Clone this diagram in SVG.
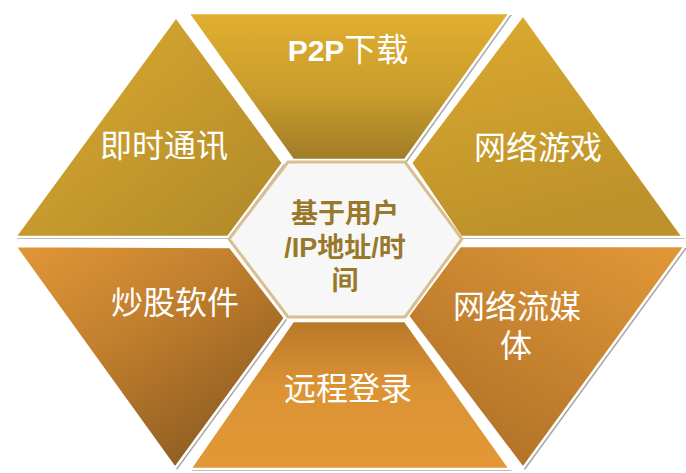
<svg xmlns="http://www.w3.org/2000/svg" width="686" height="473" viewBox="0 0 686 473">
<defs>
<linearGradient id="gTop" x1="0" y1="0" x2="0" y2="1"><stop offset="0" stop-color="#E1AF30"/><stop offset="0.55" stop-color="#C99C2B"/><stop offset="1" stop-color="#A07C28"/></linearGradient>
<linearGradient id="gTL" x1="0" y1="0" x2="1" y2="1"><stop offset="0" stop-color="#DDAC31"/><stop offset="1" stop-color="#AF8828"/></linearGradient>
<linearGradient id="gTR" x1="0" y1="0" x2="0.3" y2="1"><stop offset="0" stop-color="#DCAA30"/><stop offset="1" stop-color="#BD922A"/></linearGradient>
<linearGradient id="gBL" x1="0" y1="0" x2="0.8" y2="1"><stop offset="0" stop-color="#E29737"/><stop offset="0.45" stop-color="#C07E2D"/><stop offset="1" stop-color="#875820"/></linearGradient>
<linearGradient id="gB" x1="0" y1="0" x2="0" y2="1"><stop offset="0" stop-color="#B97828"/><stop offset="0.45" stop-color="#DC9334"/><stop offset="1" stop-color="#E29836"/></linearGradient>
<linearGradient id="gBR" x1="1" y1="0" x2="0.3" y2="1"><stop offset="0" stop-color="#E29837"/><stop offset="1" stop-color="#B07228"/></linearGradient>
</defs>
<style>
.sh{fill:#A8A8A8}
.pc{stroke:#FFFFFF;stroke-width:2.5;stroke-linejoin:miter}
.lb{font-family:"Noto Sans CJK SC","Noto Sans",sans-serif;font-size:32px;fill:#FFFFFF;text-anchor:middle}
.ct{font-family:"Noto Sans CJK SC","Noto Sans",sans-serif;font-size:27px;font-weight:bold;fill:#98782A;text-anchor:middle}
</style>
<g id="n-p2p">
<polygon class="sh" points="190,15 512,15 407,162 295,162"/>
<polygon class="pc" fill="url(#gTop)" points="188,13 510,13 405,160 293,160"/>
<text class="lb" x="348" y="61"><tspan font-family="Liberation Sans,sans-serif" font-weight="bold" font-size="30">P2P</tspan>下载</text>
</g>
<g id="n-im">
<polygon class="sh" points="178,19 285,165 230,239 17,239"/>
<polygon class="pc" fill="url(#gTL)" points="176,17 283,163 228,237 15,237"/>
<text class="lb" x="164" y="157">即时通讯</text>
</g>
<g id="n-game">
<polygon class="sh" points="525,17 685,239 463,239 413,165"/>
<polygon class="pc" fill="url(#gTR)" points="523,15 683,237 461,237 411,163"/>
<text class="lb" x="538" y="159">网络游戏</text>
</g>
<g id="n-stock">
<polygon class="sh" points="17,248 232,249 287,320 177,470"/>
<polygon class="pc" fill="url(#gBL)" points="15,246 230,247 285,318 175,468"/>
<text class="lb" x="175" y="314">炒股软件</text>
</g>
<g id="n-remote">
<polygon class="sh" points="295,323 407,323 512,471 192,471"/>
<polygon class="pc" fill="url(#gB)" points="293,321 405,321 510,469 190,469"/>
<text class="lb" x="348" y="400">远程登录</text>
</g>
<g id="n-stream">
<polygon class="sh" points="462,248 687,248 525,470 410,318"/>
<polygon class="pc" fill="url(#gBR)" points="460,246 685,246 523,468 408,316"/>
<text class="lb" x="517" y="318">网络流媒</text>
<text class="lb" x="516" y="357">体</text>
</g>
<g id="n-center">
<polygon points="288,162 405,162 462,239 405,317 288,317 229,239" fill="#F7F7F7" stroke="#D9BE92" stroke-width="3"/>
<text class="ct" x="345" y="223">基于用户</text>
<text class="ct" x="345" y="257"><tspan font-family="Liberation Sans,sans-serif">/IP</tspan>地址<tspan font-family="Liberation Sans,sans-serif">/</tspan>时</text>
<text class="ct" x="345" y="290">间</text>
</g>
<g id="connectors"></g>
</svg>
